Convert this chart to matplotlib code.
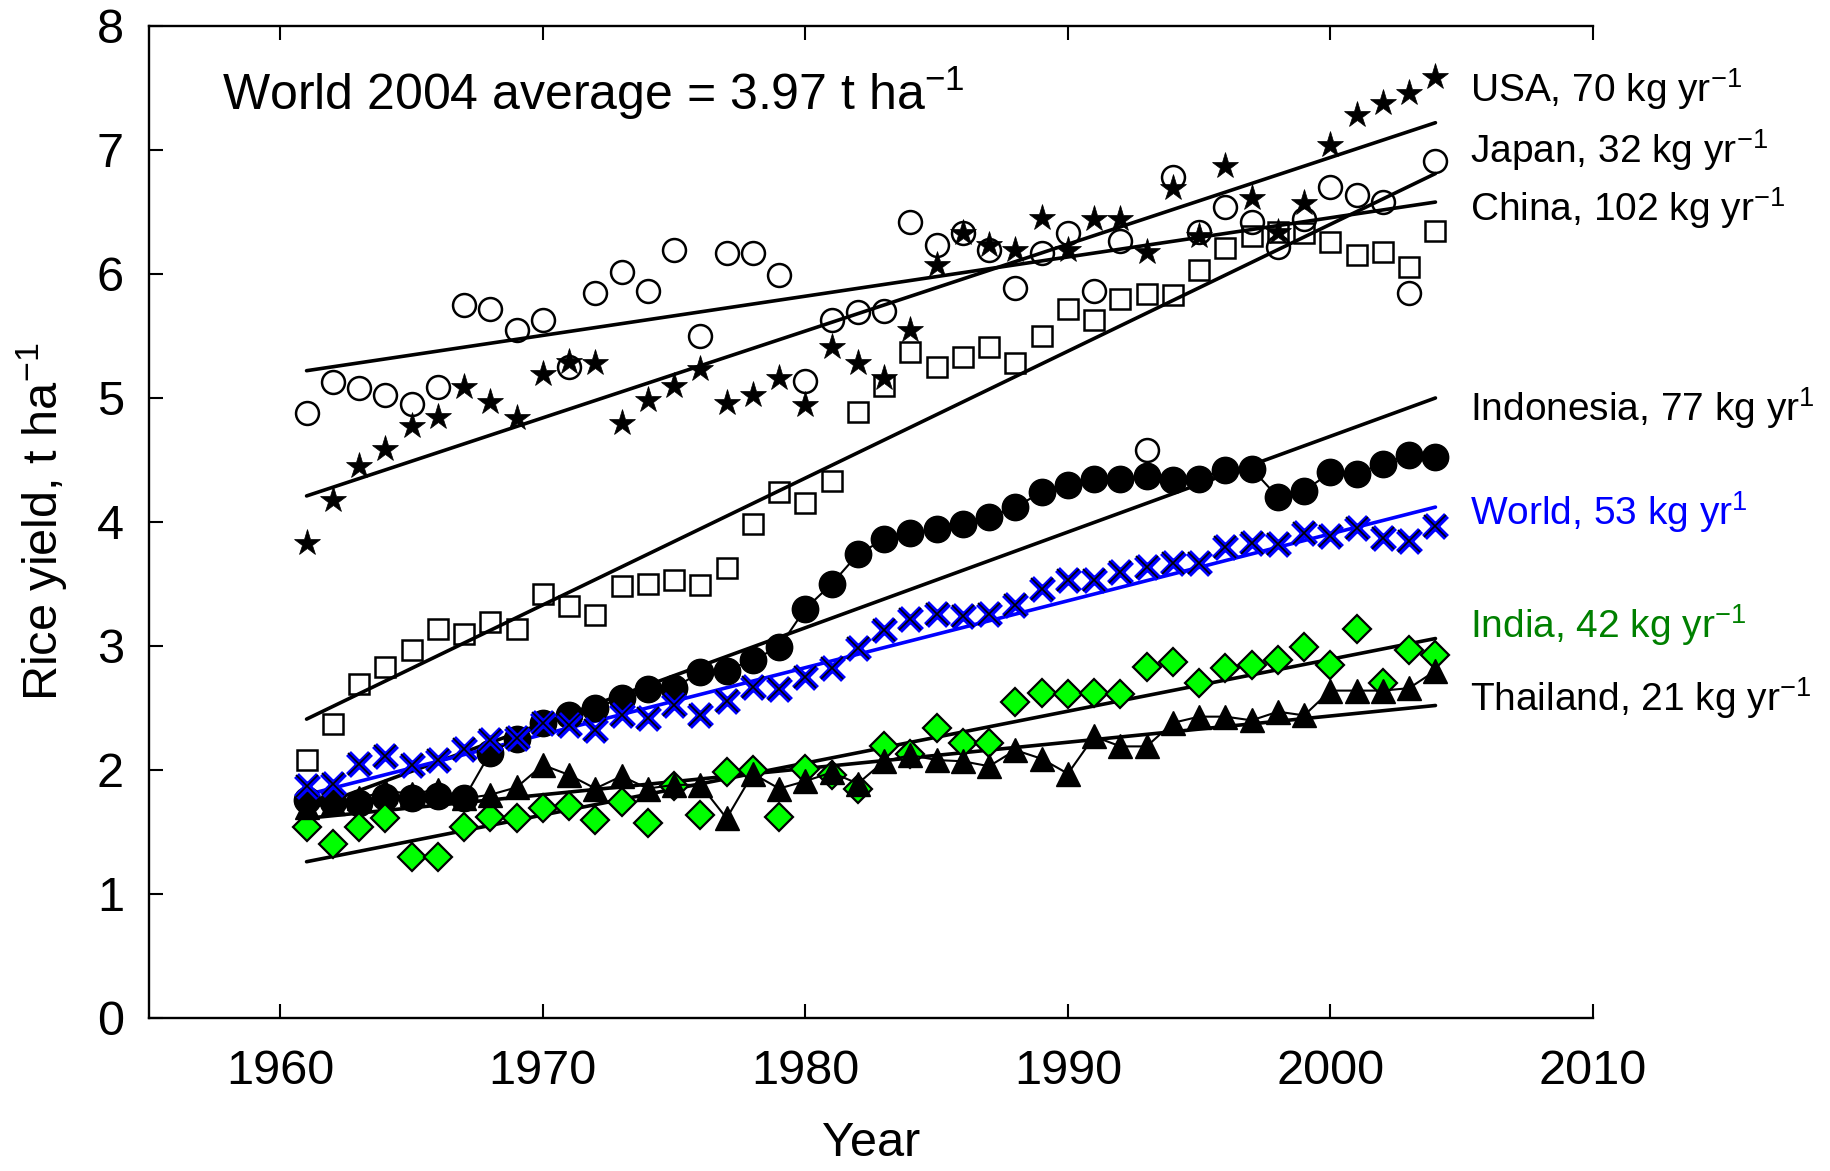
import numpy as np
import matplotlib
matplotlib.use("Agg")
import matplotlib.pyplot as plt

plt.rcParams['font.family'] = ['Liberation Sans', 'DejaVu Sans']
plt.rcParams['mathtext.fontset'] = 'custom'
plt.rcParams['mathtext.rm'] = 'Liberation Sans'
plt.rcParams['mathtext.it'] = 'Liberation Sans:italic'
plt.rcParams['mathtext.bf'] = 'Liberation Sans:bold'

years = list(range(1961, 2005))

usa = [3.83, 4.18, 4.45, 4.59, 4.77, 4.85, 5.09, 4.97, 4.84, 5.19, 5.29, 5.28, 4.80, 4.98, 5.10,
       5.23, 4.96, 5.02, 5.16, 4.94, 5.41, 5.28, 5.16, 5.55, 6.07, 6.33, 6.23, 6.19, 6.45, 6.19,
       6.44, 6.44, 6.18, 6.69, 6.31, 6.87, 6.61, 6.34, 6.57, 7.04, 7.28, 7.38, 7.46, 7.59]
japan = [4.88, 5.13, 5.08, 5.02, 4.95, 5.09, 5.75, 5.72, 5.55, 5.63, 5.25, 5.85, 6.02, 5.86, 6.19,
         5.50, 6.17, 6.17, 5.99, 5.14, 5.63, 5.69, 5.70, 6.42, 6.23, 6.33, 6.19, 5.89, 6.17, 6.33,
         5.86, 6.27, 4.58, 6.78, 6.34, 6.54, 6.42, 6.22, 6.44, 6.70, 6.64, 6.58, 5.85, 6.91]
china = [2.08, 2.37, 2.69, 2.83, 2.97, 3.14, 3.10, 3.19, 3.14, 3.42, 3.32, 3.25, 3.48, 3.50, 3.53,
         3.49, 3.63, 3.98, 4.24, 4.15, 4.33, 4.89, 5.10, 5.37, 5.25, 5.33, 5.41, 5.28, 5.50, 5.72,
         5.63, 5.80, 5.84, 5.83, 6.03, 6.21, 6.31, 6.34, 6.33, 6.26, 6.15, 6.18, 6.06, 6.35]
indonesia = [1.76, 1.74, 1.73, 1.78, 1.77, 1.79, 1.77, 2.14, 2.25, 2.38, 2.44, 2.50, 2.58, 2.65, 2.66,
             2.79, 2.80, 2.89, 2.99, 3.30, 3.50, 3.74, 3.86, 3.91, 3.94, 3.98, 4.04, 4.12, 4.24, 4.30,
             4.35, 4.35, 4.37, 4.34, 4.35, 4.42, 4.43, 4.20, 4.25, 4.40, 4.39, 4.47, 4.54, 4.52]
world = [1.87, 1.89, 2.05, 2.11, 2.04, 2.08, 2.17, 2.24, 2.26, 2.38, 2.36, 2.32, 2.44, 2.42, 2.52,
         2.44, 2.56, 2.67, 2.65, 2.75, 2.82, 2.98, 3.13, 3.22, 3.26, 3.24, 3.26, 3.33, 3.46, 3.53,
         3.53, 3.60, 3.64, 3.67, 3.67, 3.80, 3.83, 3.82, 3.91, 3.89, 3.95, 3.87, 3.85, 3.97]
india = [1.54, 1.40, 1.54, 1.61, 1.30, 1.30, 1.54, 1.62, 1.61, 1.69, 1.71, 1.60, 1.74, 1.57, 1.87,
         1.64, 1.98, 2.00, 1.62, 2.01, 1.96, 1.85, 2.19, 2.13, 2.34, 2.22, 2.22, 2.55, 2.62, 2.61,
         2.62, 2.61, 2.83, 2.87, 2.70, 2.82, 2.85, 2.89, 2.99, 2.85, 3.14, 2.70, 2.97, 2.93]
thailand = [1.70, 1.73, 1.77, 1.83, 1.81, 1.84, 1.77, 1.80, 1.86, 2.04, 1.96, 1.85, 1.95, 1.85, 1.88,
            1.88, 1.61, 1.97, 1.85, 1.91, 1.98, 1.89, 2.07, 2.12, 2.08, 2.07, 2.03, 2.16, 2.09, 1.97,
            2.27, 2.19, 2.19, 2.38, 2.43, 2.43, 2.40, 2.47, 2.44, 2.64, 2.64, 2.64, 2.66, 2.80]

# linear trend lines: values at first and last year
trend_years = [1961, 2004]
trend_usa = [4.21, 7.22]
trend_japan = [5.22, 6.58]
trend_china = [2.41, 6.81]
trend_indonesia = [1.68, 5.00]
trend_world = [1.80, 4.12]
trend_india = [1.26, 3.06]
trend_thailand = [1.61, 2.52]

labels = ["USA, 70 kg yr$^{-1}$", "Japan, 32 kg yr$^{-1}$", "China, 102 kg yr$^{-1}$",
          "Indonesia, 77 kg yr$^{1}$", "World, 53 kg yr$^{1}$", "India, 42 kg yr$^{-1}$",
          "Thailand, 21 kg yr$^{-1}$"]
label_y = [7.49, 7.00, 6.53, 4.92, 4.08, 3.17, 2.58]
label_colors = ["black", "black", "black", "black", "#0000ff", "#008000", "black"]

fig = plt.figure(figsize=(18.31, 11.71), dpi=100)
ax = fig.add_axes([0.0814, 0.1307, 0.7886, 0.8471])

lw_trend = 2.6
# open markers
ax.plot(years, japan, linestyle='none', marker='o', ms=16.5, mfc='none', mec='black', mew=1.8, zorder=3)
ax.plot(years, china, linestyle='none', marker='s', ms=15, mfc='none', mec='black', mew=1.8, zorder=3)
# trend lines
for tv in [trend_usa, trend_japan, trend_china, trend_indonesia, trend_india, trend_thailand]:
    ax.plot(trend_years, tv, color='black', lw=lw_trend, zorder=4, solid_capstyle='round')
ax.plot(trend_years, trend_world, color='#0000ff', lw=lw_trend, zorder=4, solid_capstyle='round')

ax.plot(years, usa, linestyle='none', marker='*', ms=20, mfc='black', mec='black', mew=0.5, zorder=5)
ax.plot(years, indonesia, color='black', lw=1.5, marker='o', ms=19, mfc='black', mec='black', zorder=5)
ax.plot(years, world, linestyle='none', marker='x', ms=16.5, mec='#0000ff', mew=5.0, zorder=6)
ax.plot(years, world, linestyle='none', marker='x', ms=16.5, mec='black', mew=1.2, zorder=6)
ax.plot(years, india, linestyle='none', marker='D', ms=14, mfc='#00ff00', mec='black', mew=1.6, zorder=6)
ax.plot(years, thailand, color='black', lw=1.5, marker='^', ms=17, mfc='black', mec='black', zorder=7)

for txt, yv, c in zip(labels, label_y, label_colors):
    ax.text(2005.3, yv, txt, color=c, fontsize=28, ha='left', va='center', clip_on=False)

ax.text(0.0506, 0.932, "World 2004 average = 3.97 t ha$^{-1}$", transform=ax.transAxes,
        fontsize=36, ha='left', va='center')

ax.set_xlim(1955, 2010)
ax.set_ylim(0, 8)
ax.set_xticks(range(1960, 2011, 10))
ax.set_yticks(range(0, 9))
ax.spines['right'].set_visible(False)
for s in ['left', 'bottom', 'top']:
    ax.spines[s].set_linewidth(1.7)
ax.tick_params(axis='both', direction='in', length=10, width=1.5, labelsize=35)
ax.tick_params(axis='x', top=True, pad=22)
ax.tick_params(axis='y', right=False, pad=18)

ax.set_xlabel("Year", fontsize=35)
ax.set_ylabel("Rice yield, t ha$^{-1}$", fontsize=35)
ax.xaxis.set_label_coords(0.5, -0.104)
ax.yaxis.set_label_coords(-0.055, 0.5)

fig.savefig("out.png", dpi=100)
